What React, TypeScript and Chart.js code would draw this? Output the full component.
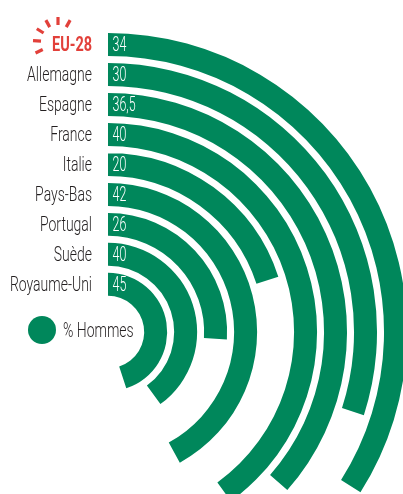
import { useEffect, useRef } from 'react';
import { Chart, registerables } from 'chart.js';

Chart.register(...registerables);

// ---- data ----
const countries = ['EU-28', 'Allemagne', 'Espagne', 'France', 'Italie', 'Pays-Bas', 'Portugal', 'Suède', 'Royaume-Uni'];
const menShare = [34, 30, 36.5, 40, 20, 42, 26, 40, 45];
const highlighted = ['EU-28'];
const seriesLabel = '% Hommes';
const fullScale = 100;

// ---- style ----
const GREEN = '#00875b';
const RED = '#e2403a';
const TEXT = '#231f20';
const FONT = 'Roboto, "Liberation Sans", "DejaVu Sans", sans-serif';
const RING_WEIGHT = 23;
const GAP_WEIGHT = 7;

function fmt(v: number) {
  return String(v).replace('.', ',');
}

function drawScaled(
  ctx: CanvasRenderingContext2D,
  text: string,
  x: number,
  y: number,
  align: 'left' | 'right',
  scale: number,
  font: string,
  color: string
) {
  ctx.save();
  ctx.font = font;
  ctx.fillStyle = color;
  ctx.textBaseline = 'alphabetic';
  ctx.textAlign = 'left';
  const w = ctx.measureText(text).width * scale;
  const left = align === 'right' ? x - w : x;
  ctx.translate(left, y);
  ctx.scale(scale, 1);
  ctx.fillText(text, 0, 0);
  ctx.restore();
}

function measure(ctx: CanvasRenderingContext2D, font: string, text: string) {
  ctx.save();
  ctx.font = font;
  const w = ctx.measureText(text).width;
  ctx.restore();
  return w;
}

const labelPlugin = {
  id: 'ringLabels',
  afterDatasetsDraw(chart: any) {
    const ctx: CanvasRenderingContext2D = chart.ctx;
    const labelFont = `300 20.5px ${FONT}`;
    const boldFont = `bold 21px ${FONT}`;
    const valueFont = `300 20.5px ${FONT}`;
    const sLabel = (65 + 82) / (measure(ctx, labelFont, 'Allemagne') + measure(ctx, labelFont, 'Royaume-Uni'));
    const sBold = 40 / measure(ctx, boldFont, 'EU-28');
    const sValue = 13.8 / measure(ctx, valueFont, '34');

    let cx = 0;
    let cyCenter = 0;
    countries.forEach((name, i) => {
      const meta = chart.getDatasetMeta(i * 2);
      const arc = meta.data[0];
      const p = arc.getProps(['x', 'y', 'innerRadius', 'outerRadius'], true);
      cx = p.x;
      cyCenter = p.y;
      const yMid = p.y - (p.innerRadius + p.outerRadius) / 2;
      const base = yMid + 7;
      const isHi = highlighted.includes(name);
      if (isHi) {
        drawScaled(ctx, name, p.x - 16, base, 'right', sBold, boldFont, RED);
        // sunburst icon
        const icx = p.x - 50;
        const icy = yMid - 2.5;
        ctx.save();
        ctx.strokeStyle = RED;
        ctx.lineWidth = 3.2;
        ctx.lineCap = 'butt';
        [-116, -87, -58, -29, 0, 29].forEach((deg) => {
          const a = (deg * Math.PI) / 180;
          const sx = Math.sin(a);
          const sy = -Math.cos(a);
          ctx.beginPath();
          ctx.moveTo(icx + sx * 17, icy + sy * 17);
          ctx.lineTo(icx + sx * 25, icy + sy * 25);
          ctx.stroke();
        });
        ctx.restore();
      } else {
        drawScaled(ctx, name, p.x - 16, base, 'right', sLabel, labelFont, TEXT);
      }
      drawScaled(ctx, fmt(menShare[i]), p.x + 4.5, base, 'left', sValue, valueFont, '#ffffff');
    });

    // legend
    const lx = cx - 66;
    const ly = cyCenter - 2;
    ctx.save();
    ctx.fillStyle = GREEN;
    ctx.beginPath();
    ctx.arc(lx, ly, 14, 0, Math.PI * 2);
    ctx.fill();
    ctx.restore();
    drawScaled(ctx, seriesLabel, lx + 21, ly + 7, 'left', sLabel, labelFont, TEXT);
  },
};

export default function App() {
  const ref = useRef<HTMLCanvasElement>(null);

  useEffect(() => {
    if (!ref.current) return;
    const datasets: any[] = [];
    menShare.forEach((v, i) => {
      datasets.push({
        label: countries[i],
        data: [v, fullScale - v],
        backgroundColor: [GREEN, 'rgba(0,0,0,0)'],
        borderWidth: 0,
        weight: RING_WEIGHT,
      });
      if (i < menShare.length - 1) {
        datasets.push({
          label: 'gap' + i,
          data: [fullScale],
          backgroundColor: ['rgba(0,0,0,0)'],
          borderWidth: 0,
          weight: GAP_WEIGHT,
        });
      }
    });

    const chart = new Chart(ref.current, {
      type: 'doughnut',
      data: { labels: [seriesLabel, 'reste'], datasets },
      options: {
        responsive: false,
        animation: false,
        devicePixelRatio: 1,
        events: [],
        radius: 299,
        cutout: '12.1%',
        rotation: 0,
        circumference: 360,
        layout: { padding: { left: 0, right: 187, top: 170, bottom: 0 } },
        plugins: {
          legend: { display: false },
          tooltip: { enabled: false },
          title: { display: false },
        },
      } as any,
      plugins: [labelPlugin],
    });
    return () => chart.destroy();
  }, []);

  return (
    <div style={{ position: 'fixed', left: 0, top: 0, width: 403, height: 494, background: '#ffffff', overflow: 'hidden' }}>
      <canvas ref={ref} width={403} height={494} style={{ display: 'block', width: 403, height: 494 }} />
    </div>
  );
}
